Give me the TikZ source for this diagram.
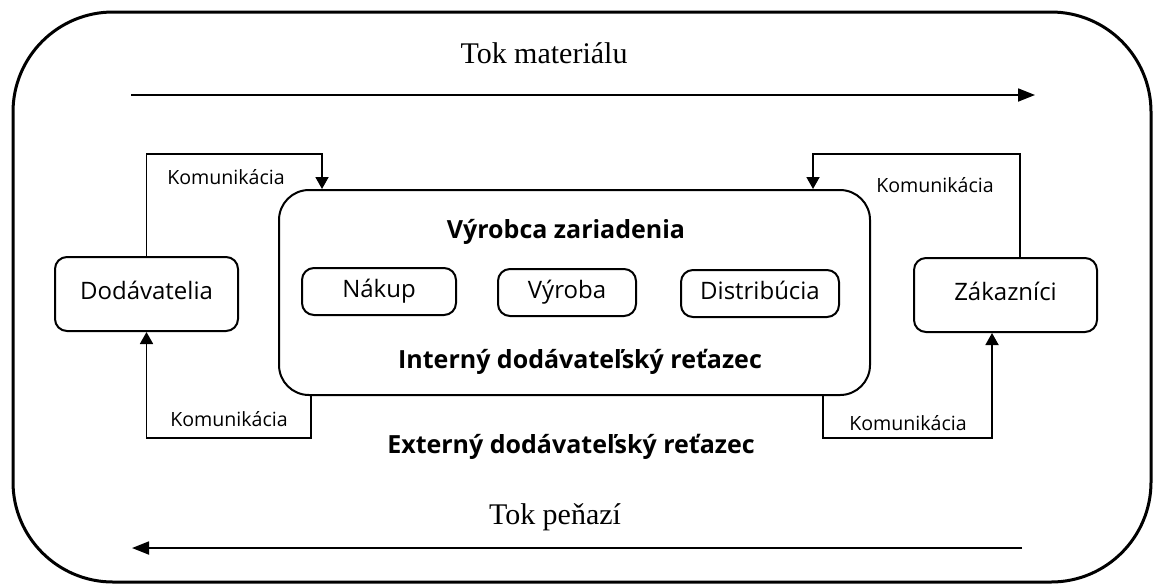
\documentclass[tikz,border=0pt]{standalone}
\usepackage{fontspec}
\setmainfont{Liberation Serif}
\setsansfont{Open Sans}
\usetikzlibrary{positioning,arrows.meta}

\begin{document}
\begin{tikzpicture}[x=0.5pt, y=-0.5pt,
  bx/.style 2 args={rectangle, rounded corners=6pt, draw, line width=1pt,
                    minimum width=#1, minimum height=#2, inner sep=0pt,
                    text height=1.6ex, text depth=0.3ex,
                    font=\sffamily\fontsize{12}{14}\selectfont},
  fl/.style={-{Triangle[length=6pt, width=6.5pt]}, line width=0.9pt},
  tok/.style={-{Triangle[length=8.5pt, width=6.5pt]}, line width=0.9pt},
  kom/.style={font=\sffamily\fontsize{9.8}{11}\selectfont},
  tit/.style={font=\sffamily\bfseries\fontsize{12.5}{14}\selectfont}]

\useasboundingbox (0,0) rectangle (1154,585);

% ramec
\draw[line width=1.5pt, rounded corners=50pt] (13,12) rectangle (1151,582);

% toky
\node[font=\fontsize{15}{17}\selectfont] (tokm) at (544,53) {Tok materiálu};
\coordinate (ma) at (131,95);
\coordinate (mb) at (1035,95);
\draw[tok] (ma) -- (mb);
\node[font=\fontsize{15}{17}\selectfont] (tokp) at (555,517) {Tok peňazí};
\coordinate (pa) at (1022,548);
\coordinate (pb) at (132,548);
\draw[tok] (pa) -- (pb);

% uzly
\node[bx={91.5pt}{37pt}] (dod) at (146.5,294) {Dodávatelia};
\node[bx={91.5pt}{37pt}] (zak) at (1005.5,295) {Zákazníci};
\node[draw, line width=1pt, rounded corners=15pt, minimum width=295.5pt,
      minimum height=102.5pt] (vyr) at (574.5,292.5) {};
\node[tit] (tvyr) at (566,232) {Výrobca zariadenia};
\node[bx={77pt}{23.5pt}] (nak) at (379,291.5) {Nákup};
\node[bx={69pt}{23.5pt}] (vyb) at (567,292.5) {Výroba};
\node[bx={79pt}{23.5pt}] (dis) at (760,293.5) {Distribúcia};
\node[tit] (tint) at (580,362) {Interný dodávateľský reťazec};
\node[tit] (text) at (571,447) {Externý dodávateľský reťazec};

% komunikacia
\coordinate (lh) at (322,154);
\coordinate (ld) at (311,438);
\coordinate (rz) at (1020,154);
\coordinate (rh) at (813,154);
\coordinate (rd) at (823,438);
\coordinate (rb) at (992,438);
\draw[fl] (dod.north) |- (lh) -- (lh |- vyr.north);
\draw[fl] (ld |- vyr.south) -- (ld) -| (dod.south);
\draw[fl] (rz |- zak.north) -- (rz) -- (rh) -- (rh |- vyr.north);
\draw[fl] (rd |- vyr.south) -- (rd) -- (rb) -- (rb |- zak.south);
\node[kom] (k1) at (226,177) {Komunikácia};
\node[kom] (k2) at (229,419) {Komunikácia};
\node[kom] (k3) at (935,185) {Komunikácia};
\node[kom] (k4) at (908,423) {Komunikácia};

\end{tikzpicture}
\end{document}
